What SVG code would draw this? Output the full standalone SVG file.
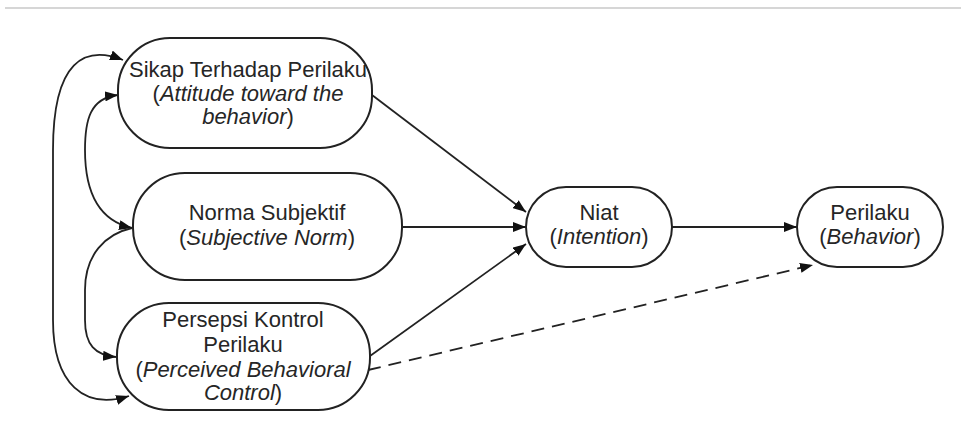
<svg xmlns="http://www.w3.org/2000/svg" width="961" height="432" viewBox="0 0 961 432">
<defs>
<style>
.node rect{fill:#fff;stroke:#222;stroke-width:2}
text{font-family:"Liberation Sans",Arial,sans-serif;font-size:22px;fill:#262626;text-anchor:middle}
.i{font-style:italic}
.c{fill:none;stroke:#222;stroke-width:1.8}
.d{stroke-dasharray:13 8}
</style>
<marker id="ah" viewBox="0 0 13 10" refX="13" refY="5" markerWidth="13" markerHeight="10" markerUnits="userSpaceOnUse" orient="auto-start-reverse">
<path d="M0,0 L13,5 L0,10 z" fill="#111"/>
</marker>
</defs>
<rect x="0" y="0" width="961" height="432" fill="#fff"/>
<line x1="5" y1="8" x2="961" y2="8" stroke="#c8c8c8" stroke-width="1.5"/>
<g id="connectors">
<path class="c" d="M372,95 L526,212" marker-end="url(#ah)"/>
<path class="c" d="M402,227 L526,227" marker-end="url(#ah)"/>
<path class="c" d="M370,356 L526,244" marker-end="url(#ah)"/>
<path class="c" d="M672,227 L797,227" marker-end="url(#ah)"/>
<path class="c d" d="M368,370 L813,265" marker-end="url(#ah)"/>
<path class="c" d="M123,60 C85,45 53,60 53,150 L53,320 C53,385 85,410 129,396" marker-start="url(#ah)" marker-end="url(#ah)"/>
<path class="c" d="M118,95 C90,98 85,120 85,150 C85,200 105,222 132,228" marker-start="url(#ah)" marker-end="url(#ah)"/>
<path class="c" d="M132,228 C105,234 85,255 85,290 L85,320 C85,345 95,355 116,357" marker-end="url(#ah)"/>
</g>
<g id="sikap" class="node">
<rect x="118" y="38" width="254" height="110" rx="52"/>
<text x="248" y="77">Sikap Terhadap Perilaku</text>
<text x="248" y="101">(<tspan class="i">Attitude toward the</tspan></text>
<text x="248" y="124"><tspan class="i">behavior</tspan>)</text>
</g>
<g id="norma" class="node">
<rect x="133" y="173" width="269" height="107" rx="52"/>
<text x="267" y="220">Norma Subjektif</text>
<text x="267" y="245">(<tspan class="i">Subjective Norm</tspan>)</text>
</g>
<g id="persepsi" class="node">
<rect x="117" y="303" width="253" height="107" rx="52"/>
<text x="243" y="327">Persepsi Kontrol</text>
<text x="243" y="352">Perilaku</text>
<text x="243" y="377">(<tspan class="i">Perceived Behavioral</tspan></text>
<text x="243" y="400"><tspan class="i">Control</tspan>)</text>
</g>
<g id="niat" class="node">
<rect x="526" y="187" width="146" height="80" rx="40"/>
<text x="599" y="220">Niat</text>
<text x="599" y="244">(<tspan class="i">Intention</tspan>)</text>
</g>
<g id="perilaku" class="node">
<rect x="797" y="187" width="146" height="80" rx="40"/>
<text x="870" y="220">Perilaku</text>
<text x="870" y="244">(<tspan class="i">Behavior</tspan>)</text>
</g>
</svg>
